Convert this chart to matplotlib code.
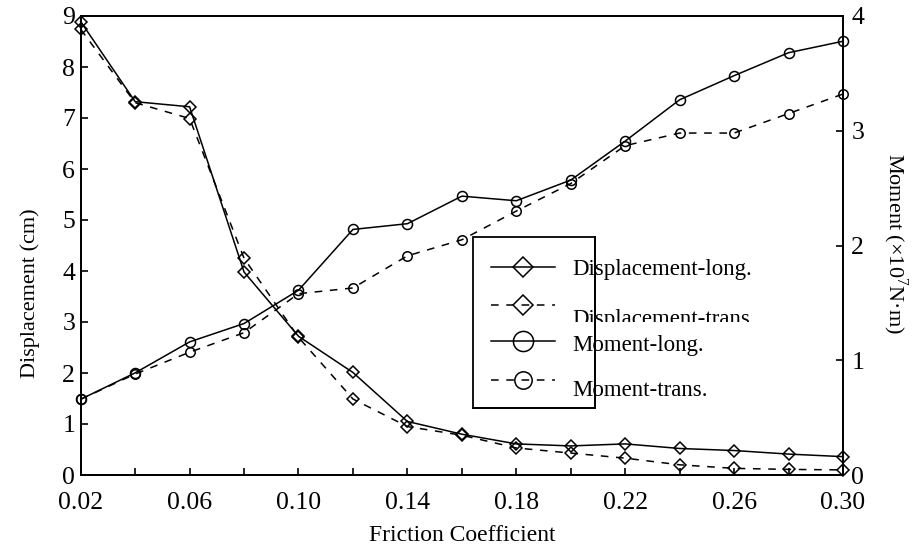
import matplotlib
matplotlib.use("Agg")
import matplotlib.pyplot as plt
from matplotlib.lines import Line2D
from matplotlib.patches import Rectangle
from matplotlib.transforms import Bbox, TransformedBbox

plt.rcParams['font.family'] = ['Liberation Serif', 'DejaVu Serif']
plt.rcParams['mathtext.fontset'] = 'custom'
plt.rcParams['mathtext.rm'] = 'Liberation Serif'

# ---- data ----
friction = [0.02, 0.04, 0.06, 0.08, 0.10, 0.12, 0.14, 0.16, 0.18, 0.20, 0.22, 0.24, 0.26, 0.28, 0.30]
disp_long = [8.89, 7.32, 7.22, 3.98, 2.72, 2.01, 1.05, 0.80, 0.61, 0.57, 0.61, 0.52, 0.48, 0.41, 0.36]
disp_trans = [8.74, 7.30, 6.99, 4.25, 2.70, 1.49, 0.95, 0.78, 0.53, 0.43, 0.33, 0.20, 0.13, 0.11, 0.10]
moment_long = [0.66, 0.89, 1.16, 1.32, 1.61, 2.14, 2.19, 2.43, 2.39, 2.57, 2.91, 3.27, 3.48, 3.68, 3.78]
moment_trans = [0.66, 0.88, 1.07, 1.24, 1.58, 1.63, 1.91, 2.05, 2.30, 2.54, 2.87, 2.98, 2.98, 3.15, 3.32]

xticks = [0.02, 0.06, 0.10, 0.14, 0.18, 0.22, 0.26, 0.30]
xtick_labels = ['0.02', '0.06', '0.10', '0.14', '0.18', '0.22', '0.26', '0.30']
minor_xticks = [0.04, 0.08, 0.12, 0.16, 0.20, 0.24, 0.28]
left_ticks = [0, 1, 2, 3, 4, 5, 6, 7, 8, 9]
right_ticks = [0, 1, 2, 3, 4]

legend_labels = ['Displacement-long.', 'Displacement-trans.', 'Moment-long.', 'Moment-trans.']

W, H = 917, 546
fig = plt.figure(figsize=(W / 100, H / 100), dpi=100)
ax = fig.add_axes([80.7 / W, (H - 475) / H, (843 - 80.7) / W, (475 - 16) / H])
ax2 = ax.twinx()

lw = 1.1
dash = (0, (5, 5))

ax.plot(friction, disp_long, color='black', lw=lw, marker='D', ms=6.2,
        mfc='none', mec='black', mew=1.1, clip_on=False, zorder=3)
ax.plot(friction, disp_trans, color='black', lw=lw, ls=dash, marker='D', ms=6.2,
        mfc='none', mec='black', mew=1.1, clip_on=False, zorder=3)
ax2.plot(friction, moment_long, color='black', lw=lw, marker='o', ms=7.2,
         mfc='none', mec='black', mew=1.1, clip_on=False, zorder=3)
ax2.plot(friction, moment_trans, color='black', lw=lw, ls=dash, marker='o', ms=6.8,
         mfc='none', mec='black', mew=1.1, clip_on=False, zorder=3)

ax.set_xlim(0.02, 0.30)
ax.set_ylim(0, 9)
ax2.set_ylim(0, 4)

ax.set_xticks(xticks)
ax.set_xticklabels(xtick_labels)
ax.set_xticks(minor_xticks, minor=True)
ax.set_yticks(left_ticks)
ax2.set_yticks(right_ticks)

for a in (ax, ax2):
    for s in a.spines.values():
        s.set_linewidth(1.3)
ax.tick_params(axis='x', which='both', direction='in', length=5, width=1.2,
               labelsize=18.5, pad=12, top=False)
ax.tick_params(axis='y', direction='in', length=5, width=1.2, labelsize=18.5, pad=4)
ax2.tick_params(axis='y', direction='in', length=5, width=1.2, labelsize=18.5, pad=6)

ax.set_xlabel('Friction Coefficient', fontsize=17, labelpad=8)
ax.set_ylabel('Displacement (cm)', fontsize=16)
ax.yaxis.set_label_coords(-0.053, 0.397)
ax2.set_ylabel('Moment (×10$^7$N·m)', fontsize=16, rotation=270)
ax2.yaxis.set_label_coords(1.088, 0.505)


# ---- legend (drawn manually to reproduce the original's layout) ----
def fx(px):
    return px / W


def fy(py):
    return 1 - py / H


box = Rectangle((fx(473), fy(408)), fx(595) - fx(473), fy(237) - fy(408),
                transform=fig.transFigure, fill=True, facecolor='white',
                edgecolor='black', lw=1.3, zorder=5)
fig.add_artist(box)
# right and bottom borders redrawn on top of the texts
fig.add_artist(Line2D([fx(595), fx(595)], [fy(237), fy(408)], transform=fig.transFigure,
                      color='black', lw=1.3, zorder=8))
fig.add_artist(Line2D([fx(473), fx(595)], [fy(408), fy(408)], transform=fig.transFigure,
                      color='black', lw=1.3, zorder=8))

handle_rows = [267, 305, 341, 380]
handle_styles = [('-', 'D', 10.5), (dash, 'D', 10.5), ('-', 'o', 14.5), (dash, 'o', 12.5)]
for row, (ls, mk, ms) in zip(handle_rows, handle_styles):
    fig.add_artist(Line2D([fx(491), fx(555)], [fy(row), fy(row)], transform=fig.transFigure,
                          color='black', lw=lw, ls=ls, zorder=6))
    fig.add_artist(Line2D([fx(523)], [fy(row)], transform=fig.transFigure, marker=mk, ms=ms,
                          mfc='none', mec='black', mew=1.1, ls='none', zorder=6))

text_rows = [269, 319, 345, 390]
for i, (row, lab) in enumerate(zip(text_rows, legend_labels)):
    t = fig.text(fx(572), fy(row), lab, fontsize=16.5, ha='left', va='center', zorder=7)
    if i == 1:
        t.set_clip_on(True)
        t.set_clip_box(TransformedBbox(Bbox([[0, fy(322)], [1, 1]]), fig.transFigure))

fig.savefig('out.png', dpi=100)
